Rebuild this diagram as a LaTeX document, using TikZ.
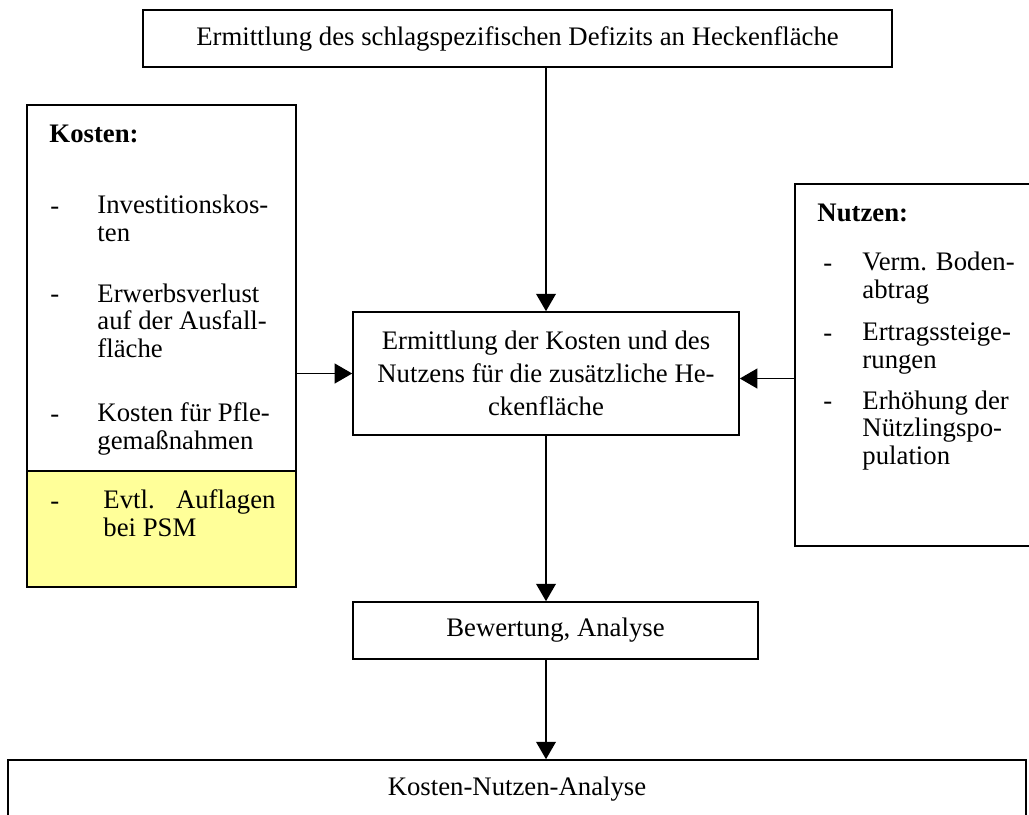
\documentclass[tikz,border=0pt]{standalone}
\usepackage{fontspec}
\setmainfont{Liberation Serif}
\usetikzlibrary{arrows.meta}
\definecolor{hellgelb}{RGB}{255,255,153}
\newcommand{\pxu}{0.43pt}

\begin{document}
\begin{tikzpicture}[
  x=0.43pt, y=-0.43pt,
  every node/.style={font=\fontsize{11.5pt}{11.8pt}\selectfont, inner sep=0pt},
  kasten/.style={draw, line width=0.7pt, align=center},
  pfeil/.style={-{Triangle[length=7.5pt, width=8.5pt]}, line width=0.65pt},
  strich/.style={anchor=base west},
  liste/.style={anchor=base west, align=left},
  titel/.style={anchor=base west, font=\fontsize{11.5pt}{11.8pt}\selectfont\bfseries}
]
\useasboundingbox (0,0) rectangle (1029,814);

% Kaesten
\node[kasten, minimum width=749*\pxu, minimum height=57*\pxu] (defizit) at (517.5,38.5)
  {Ermittlung des schlagspezifischen Defizits an Heckenfläche};
\node[kasten, minimum width=269*\pxu, minimum height=366*\pxu] (kosten) at (161.5,288) {};
\node[kasten, fill=hellgelb, minimum width=269*\pxu, minimum height=116*\pxu] (auflagen) at (161.5,529) {};
\node[kasten, minimum width=245*\pxu, minimum height=362*\pxu] (nutzen) at (917.5,365) {};
\node[kasten, minimum width=386*\pxu, minimum height=123*\pxu,
  font=\fontsize{11.5pt}{14.2pt}\selectfont] (mitte) at (546,373.5)
  {Ermittlung der Kosten und des\\Nutzens für die zusätzliche He-\\ckenfläche};
\node[kasten, minimum width=405*\pxu, minimum height=57*\pxu] (bewertung) at (555.5,630.5)
  {Bewertung, Analyse};
\node[kasten, minimum width=1018*\pxu, minimum height=58*\pxu] (analyse) at (517,789)
  {Kosten-Nutzen-Analyse};

% Kosten (Basislinie der letzten Zeile)
\node[titel] (kt) at (49,142) {Kosten:};
\node[strich] at (50,214) {-};
\node[liste] (k1) at (97,241) {Investitionskos-\\ten};
\node[strich] at (50,302) {-};
\node[liste] (k2) at (97,357) {Erwerbsverlust\\auf der Ausfall-\\fläche};
\node[strich] at (50,422) {-};
\node[liste] (k3) at (97,449) {Kosten für Pfle-\\gemaßnahmen};
\node[strich] at (50,509) {-};
\node[liste] (k4) at (103,536) {\makebox[74pt][s]{Evtl. Auflagen}\\bei PSM};

% Nutzen
\node[titel] (nt) at (817,221) {Nutzen:};
\node[strich] at (823,271) {-};
\node[liste] (n1) at (862,298) {Verm. Boden-\\abtrag};
\node[strich] at (823,341) {-};
\node[liste] (n2) at (862,368) {Ertragssteige-\\rungen};
\node[strich] at (823,409) {-};
\node[liste] (n3) at (862,464) {Erhöhung der\\Nützlingspo-\\pulation};

% Pfeile
\draw[pfeil] (defizit.south -| mitte.north) -- (mitte.north);
\draw[pfeil] (kosten.east |- mitte.west) -- (mitte.west);
\draw[pfeil] ([yshift=-5*\pxu]nutzen.west |- mitte.east) -- ([yshift=-5*\pxu]mitte.east);
\draw[pfeil] (mitte.south) -- (mitte.south |- bewertung.north);
\draw[pfeil] (bewertung.south -| mitte.south) -- (mitte.south |- analyse.north);
\end{tikzpicture}
\end{document}
